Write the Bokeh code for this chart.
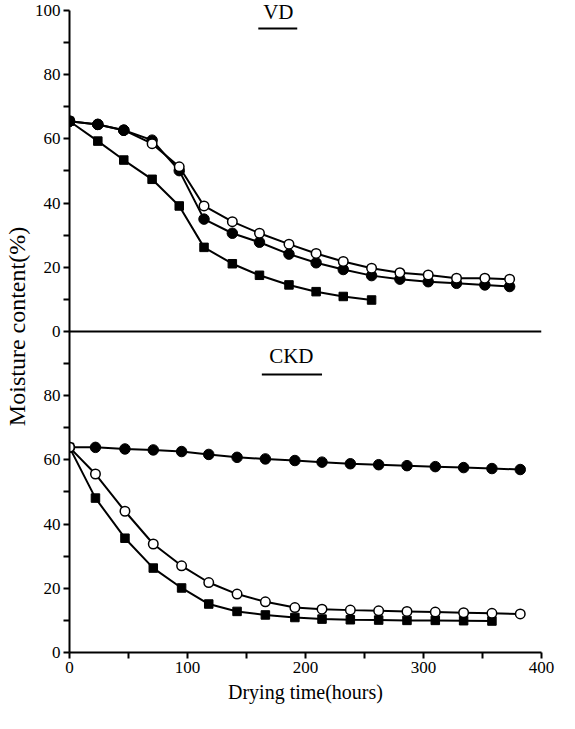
from bokeh.plotting import figure
from bokeh.models import Range1d, FixedTicker, Span, Label
from bokeh.embed import file_html
from bokeh.resources import INLINE

# ---- data ----
vd_t = [0, 24, 46, 70, 93, 114, 138, 161, 186, 209, 232, 256, 280, 304, 328, 352, 373]
vd_filled = [65.5, 64.5, 62.7, 59.6, 50.1, 35.0, 30.6, 27.8, 24.1, 21.4, 19.3, 17.4, 16.3, 15.5, 15.0, 14.5, 14.0]
vd_open = [65.5, 64.5, 62.7, 58.5, 51.3, 39.1, 34.2, 30.6, 27.2, 24.3, 21.8, 19.7, 18.3, 17.6, 16.6, 16.6, 16.3]
vd_square = [65.5, 59.3, 53.4, 47.4, 39.1, 26.2, 21.1, 17.5, 14.5, 12.4, 10.9, 9.8]

ckd_t = [0, 22, 47, 71, 95, 118, 142, 166, 191, 214, 238, 262, 286, 310, 334, 358, 382]
ckd_filled = [63.9, 63.9, 63.4, 63.1, 62.6, 61.7, 60.8, 60.3, 59.8, 59.3, 58.8, 58.5, 58.2, 57.9, 57.6, 57.3, 57.0]
ckd_open = [63.9, 55.6, 44.0, 33.8, 27.0, 21.8, 18.2, 15.8, 14.0, 13.5, 13.2, 13.0, 12.8, 12.6, 12.4, 12.2, 12.0]
ckd_square = [63.9, 48.1, 35.6, 26.3, 20.1, 15.1, 12.8, 11.7, 10.9, 10.4, 10.2, 10.1, 10.0, 10.0, 9.9, 9.8]

x_ticks = [0, 100, 200, 300, 400]
x_minor = [50, 150, 250, 350]
y_ticks = [0, 20, 40, 60, 80, 100, 120, 140, 160, 180, 200]
y_minor = [10, 30, 50, 70, 90, 110, 130, 150, 170, 190]
y_tick_labels = ["0", "20", "40", "60", "80", "0", "20", "40", "60", "80", "100"]

FONT = "Liberation Serif"

p = figure(width=559, height=712, x_range=Range1d(0, 400), y_range=Range1d(0, 203.1),
           output_backend="svg", toolbar_location=None,
           min_border_left=65, min_border_top=0, min_border_right=18, min_border_bottom=60)
p.extra_y_ranges = {"vd": Range1d(-100, 103.1)}
p.outline_line_color = None
p.background_fill_color = "white"
p.grid.visible = False

# axes
p.xaxis.ticker = FixedTicker(ticks=x_ticks, minor_ticks=x_minor)
p.yaxis.ticker = FixedTicker(ticks=y_ticks, minor_ticks=y_minor)
p.yaxis.bounds = (0, 200)
p.yaxis.major_label_overrides = {t: s for t, s in zip(y_ticks, y_tick_labels)}
for ax in (p.xaxis[0], p.yaxis[0]):
    ax.axis_line_width = 2
    ax.axis_line_color = "black"
    ax.major_tick_line_width = 2
    ax.minor_tick_line_width = 2
    ax.major_tick_line_color = "black"
    ax.minor_tick_line_color = "black"
    ax.major_tick_in = 0
    ax.minor_tick_in = 0
    ax.major_tick_out = 6
    ax.minor_tick_out = 6
    ax.major_label_text_font = FONT
    ax.major_label_text_font_size = "17px"
    ax.major_label_text_color = "black"
    ax.axis_label_text_font = FONT
    ax.axis_label_text_font_style = "normal"
    ax.axis_label_text_color = "black"
    ax.major_label_standoff = 3
p.xaxis.axis_label = "Drying time(hours)"
p.xaxis.axis_label_text_font_size = "20px"
p.xaxis.axis_label_standoff = 5
p.yaxis.axis_label = "Moisture content(%)"
p.yaxis.axis_label_text_font_size = "24px"
p.yaxis.axis_label_standoff = 2

# top panel baseline
p.add_layout(Span(location=100, dimension="width", line_color="black", line_width=2))

# ---- VD panel (top) ----
p.line(vd_t, vd_filled, line_color="black", line_width=2, y_range_name="vd")
p.line(vd_t, vd_open, line_color="black", line_width=2, y_range_name="vd")
p.line(vd_t[:len(vd_square)], vd_square, line_color="black", line_width=2, y_range_name="vd")
p.scatter(vd_t[:len(vd_square)], vd_square, marker="square", size=8.5, color="black", y_range_name="vd")
p.scatter(vd_t, vd_filled, marker="circle", size=10.5, color="black", y_range_name="vd")
p.scatter(vd_t, vd_open, marker="circle", size=9.5, fill_color="white", line_color="black",
          line_width=1.5, y_range_name="vd")
# where the two circle series coincide the filled marker shows on top
same = [i for i in range(len(vd_t)) if abs(vd_open[i] - vd_filled[i]) < 0.5]
p.scatter([vd_t[i] for i in same], [vd_filled[i] for i in same], marker="circle", size=10.5,
          color="black", y_range_name="vd")

# ---- CKD panel (bottom) ----
p.line(ckd_t, ckd_filled, line_color="black", line_width=2)
p.line(ckd_t, ckd_open, line_color="black", line_width=2)
p.line(ckd_t[:len(ckd_square)], ckd_square, line_color="black", line_width=2)
p.scatter(ckd_t[:len(ckd_square)], ckd_square, marker="square", size=8.5, color="black")
p.scatter(ckd_t, ckd_filled, marker="circle", size=10.5, color="black")
p.scatter(ckd_t, ckd_open, marker="circle", size=9.5, fill_color="white", line_color="black",
          line_width=1.5)

# panel titles with underline
p.add_layout(Label(x=177, y=199.6, text="VD", text_align="center", text_baseline="middle",
                   text_font=FONT, text_font_size="21px", text_color="black"))
p.add_layout(Label(x=188, y=92.4, text="CKD", text_align="center", text_baseline="middle",
                   text_font=FONT, text_font_size="21px", text_color="black"))
p.segment(x0=[160, 163], y0=[194.4, 86.6], x1=[193, 214], y1=[194.4, 86.6],
          line_color="black", line_width=2)

open("out.html", "w").write(file_html(p, INLINE))
